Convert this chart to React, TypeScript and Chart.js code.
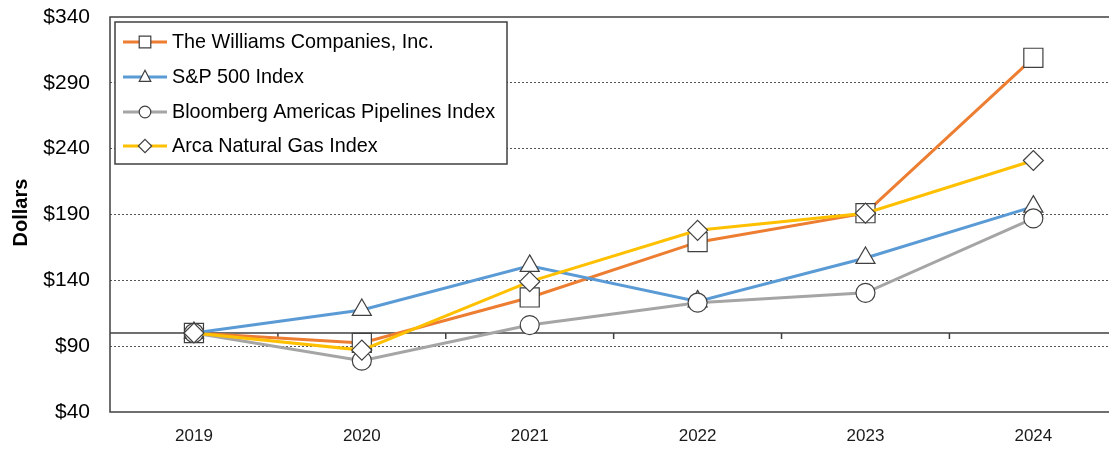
import React, { useEffect, useRef } from 'react';
import { Chart, registerables } from 'chart.js';

Chart.register(...registerables);

const years = ['2019', '2020', '2021', '2022', '2023', '2024'];
const williams = [100, 92.5, 127, 169, 191, 309];
const sp500 = [100, 117.5, 151, 124, 157, 196];
const bloomberg = [100, 79, 106, 123, 130.5, 187];
const arca = [100, 87, 139, 178, 191, 231];
const seriesNames = [
  'The Williams Companies, Inc.',
  'S&P 500 Index',
  'Bloomberg Americas Pipelines Index',
  'Arca Natural Gas Index',
];
const seriesColors = ['#ED7D31', '#5B9BD5', '#A5A5A5', '#FFC000'];
const seriesMarkers = ['rect', 'triangle', 'circle', 'rectRot'];
const markerRadii = [13.5, 11, 9.5, 10];
const yMin = 40;
const yMax = 340;
const yStep = 50;
const baselineValue = 100;
const axisTitle = 'Dollars';

const FONT = '"Liberation Sans", Arial, Helvetica, sans-serif';
const EDGE = '#404040';

function drawMarker(ctx: CanvasRenderingContext2D, style: string, x: number, y: number, s: number) {
  ctx.beginPath();
  if (style === 'rect') {
    ctx.rect(x - s, y - s, 2 * s, 2 * s);
  } else if (style === 'triangle') {
    ctx.moveTo(x, y - s * 1.15);
    ctx.lineTo(x + s, y + s * 0.75);
    ctx.lineTo(x - s, y + s * 0.75);
    ctx.closePath();
  } else if (style === 'circle') {
    ctx.arc(x, y, s, 0, Math.PI * 2);
  } else {
    ctx.moveTo(x, y - s * 1.15);
    ctx.lineTo(x + s * 1.15, y);
    ctx.lineTo(x, y + s * 1.15);
    ctx.lineTo(x - s * 1.15, y);
    ctx.closePath();
  }
  ctx.fillStyle = '#fff';
  ctx.fill();
  ctx.strokeStyle = EDGE;
  ctx.lineWidth = 1.2;
  ctx.stroke();
}

const framePlugin = {
  id: 'frame',
  beforeDatasetsDraw(chart: any) {
    const { ctx, chartArea: a, scales } = chart;
    const x = scales.x;
    const y = scales.y;
    ctx.save();
    ctx.strokeStyle = EDGE;
    ctx.lineWidth = 1.5;
    ctx.strokeRect(a.left, a.top, a.right - a.left, a.bottom - a.top);
    const yb = y.getPixelForValue(baselineValue);
    ctx.beginPath();
    ctx.moveTo(a.left, yb);
    ctx.lineTo(a.right, yb);
    const n = years.length;
    for (let i = 0; i < n; i++) {
      const cx = x.getPixelForValue(i);
      const nx = i < n - 1 ? x.getPixelForValue(i + 1) : 2 * cx - x.getPixelForValue(i - 1);
      const bx = (cx + nx) / 2;
      ctx.moveTo(bx, yb);
      ctx.lineTo(bx, yb + 6);
    }
    ctx.stroke();
    ctx.restore();
  },
  afterDraw(chart: any) {
    const { ctx } = chart;
    ctx.save();
    ctx.translate(27, 212.5);
    ctx.rotate(-Math.PI / 2);
    ctx.fillStyle = '#000';
    ctx.font = `bold 20px ${FONT}`;
    ctx.textAlign = 'center';
    ctx.textBaseline = 'alphabetic';
    ctx.fillText(axisTitle, 0, 0);
    ctx.restore();

    ctx.save();
    const bx = 115, by = 22, bw = 392, bh = 142;
    ctx.fillStyle = '#fff';
    ctx.fillRect(bx, by, bw, bh);
    ctx.strokeStyle = EDGE;
    ctx.lineWidth = 1.5;
    ctx.strokeRect(bx, by, bw, bh);
    const rows = [42, 77, 112, 146];
    seriesNames.forEach((name, i) => {
      const ry = rows[i];
      ctx.strokeStyle = seriesColors[i];
      ctx.lineWidth = 3;
      ctx.beginPath();
      ctx.moveTo(123, ry);
      ctx.lineTo(167, ry);
      ctx.stroke();
      drawMarker(ctx, seriesMarkers[i], 145, ry, 5.8);
      ctx.fillStyle = '#000';
      ctx.font = `19.8px ${FONT}`;
      ctx.textAlign = 'left';
      ctx.textBaseline = 'middle';
      ctx.fillText(name, 172, ry + 1);
    });
    ctx.restore();
  },
};

export default function App() {
  const ref = useRef<HTMLCanvasElement | null>(null);

  useEffect(() => {
    if (!ref.current) return;
    const seriesValues = [williams, sp500, bloomberg, arca];
    const chart = new Chart(ref.current, {
      type: 'line',
      data: {
        labels: years,
        datasets: seriesValues.map((vals, i) => ({
          label: seriesNames[i],
          data: vals,
          borderColor: seriesColors[i],
          borderWidth: 3,
          backgroundColor: '#fff',
          pointStyle: seriesMarkers[i] as any,
          pointRadius: markerRadii[i],
          pointBackgroundColor: '#fff',
          pointBorderColor: EDGE,
          pointBorderWidth: 1.2,
          tension: 0,
          order: 4 - i,
          clip: false as any,
        })),
      },
      options: {
        animation: false,
        responsive: true,
        maintainAspectRatio: false,
        layout: { padding: { left: 0, top: 17, right: 0, bottom: 0 } },
        plugins: {
          legend: { display: false },
          tooltip: { enabled: false },
        },
        scales: {
          x: {
            type: 'category',
            offset: true,
            grid: { display: false, drawTicks: false },
            border: { display: false },
            ticks: {
              padding: 14,
              color: '#1a1a1a',
              font: { family: FONT, size: 17 },
              maxRotation: 0,
            },
            afterFit(scale: any) {
              scale.height = 39;
              scale.paddingLeft = 0;
              scale.paddingRight = 0;
            },
          },
          y: {
            min: yMin,
            max: yMax,
            grid: {
              drawTicks: false,
              color: (c: any) =>
                c.tick && (c.tick.value === yMin || c.tick.value === yMax) ? 'rgba(0,0,0,0)' : '#555',
              lineWidth: 1,
            },
            border: { display: false, dash: [2, 2] },
            ticks: {
              stepSize: yStep,
              padding: 20,
              color: '#000',
              font: { family: FONT, size: 21 },
              callback: (v: any) => '$' + v,
            },
            afterFit(scale: any) {
              scale.width = 110;
              scale.paddingTop = 0;
              scale.paddingBottom = 0;
            },
          },
        },
      },
      plugins: [framePlugin],
    });
    return () => chart.destroy();
  }, []);

  return (
    <div
      style={{
        position: 'fixed',
        left: 0,
        top: 0,
        width: 1109,
        height: 451,
        overflow: 'hidden',
        background: '#fff',
      }}
    >
      <div style={{ position: 'relative', width: 1132, height: 451 }}>
        <canvas ref={ref} />
      </div>
    </div>
  );
}
